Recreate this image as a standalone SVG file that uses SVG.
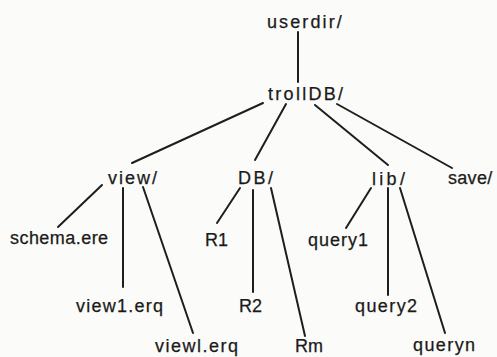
<svg xmlns="http://www.w3.org/2000/svg" width="497" height="357" viewBox="0 0 497 357">
  <style>
    .bg { fill: #fbfbf9; }
    .edge { stroke: #1e1e1e; stroke-width: 2; stroke-linecap: round; fill: none; }
    .lbl { font-family: "Liberation Sans", Arial, sans-serif; font-size: 18px; fill: #1a1a1a; stroke: #1a1a1a; stroke-width: 0.25; }
  </style>
  <rect class="bg" x="0" y="0" width="497" height="357"/>

  <!-- tree edges -->
  <g id="connectors">
    <line class="edge" x1="298" y1="32" x2="298" y2="82"/>
    <line class="edge" x1="263" y1="103" x2="132" y2="163"/>
    <line class="edge" x1="286" y1="104" x2="255" y2="160"/>
    <line class="edge" x1="315" y1="105" x2="388" y2="165"/>
    <line class="edge" x1="337" y1="104" x2="452" y2="168"/>
    <line class="edge" x1="102" y1="185" x2="58" y2="227"/>
    <line class="edge" x1="123" y1="188" x2="123" y2="287"/>
    <line class="edge" x1="143" y1="187" x2="193" y2="333"/>
    <line class="edge" x1="240" y1="188" x2="217" y2="223"/>
    <line class="edge" x1="253" y1="190" x2="253" y2="292"/>
    <line class="edge" x1="271" y1="188" x2="305" y2="336"/>
    <line class="edge" x1="371" y1="188" x2="346" y2="228"/>
    <line class="edge" x1="388" y1="188" x2="388" y2="295"/>
    <line class="edge" x1="400" y1="188" x2="445" y2="333"/>
  </g>

  <g id="userdir"><text class="lbl" x="267" y="28" letter-spacing="2.1">userdir/</text></g>
  <g id="trollDB"><text class="lbl" x="268" y="100" letter-spacing="2.3">trollDB/</text></g>

  <g id="view"><text class="lbl" x="108" y="184" letter-spacing="2">view/</text></g>
  <g id="DB"><text class="lbl" x="238" y="184" letter-spacing="2.5">DB/</text></g>
  <g id="lib"><text class="lbl" x="372" y="185" letter-spacing="3.3">lib/</text></g>
  <g id="save"><text class="lbl" x="448" y="184" letter-spacing="0.3">save/</text></g>

  <g id="schema-ere"><text class="lbl" x="10" y="244" letter-spacing="0.45">schema.ere</text></g>
  <g id="view1-erq"><text class="lbl" x="76" y="312" letter-spacing="1.25">view1.erq</text></g>
  <g id="viewl-erq"><text class="lbl" x="155" y="352" letter-spacing="1.5">viewl.erq</text></g>

  <g id="R1"><text class="lbl" x="205" y="246">R1</text></g>
  <g id="R2"><text class="lbl" x="239" y="312">R2</text></g>
  <g id="Rm"><text class="lbl" x="295" y="352">Rm</text></g>

  <g id="query1"><text class="lbl" x="308" y="246" letter-spacing="1">query1</text></g>
  <g id="query2"><text class="lbl" x="355" y="312" letter-spacing="1.4">query2</text></g>
  <g id="queryn"><text class="lbl" x="413" y="351" letter-spacing="1.4">queryn</text></g>
</svg>
